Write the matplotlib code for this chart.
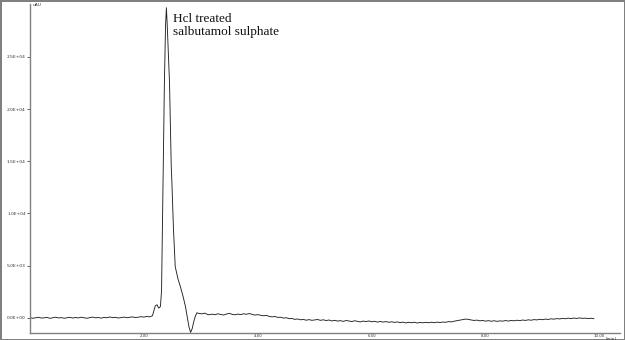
"""
HPLC chromatogram: HCl treated salbutamol sulphate
"""
import matplotlib
matplotlib.use('Agg')
import matplotlib.pyplot as plt

# retention time (min)
time_min = [
    0.00, 0.05, 0.10, 0.15, 0.20, 0.25, 0.30, 0.35, 0.40, 0.45,
    0.50, 0.55, 0.60, 0.65, 0.70, 0.75, 0.80, 0.85, 0.90, 0.95,
    1.00, 1.05, 1.10, 1.15, 1.20, 1.25, 1.30, 1.35, 1.40, 1.45,
    1.50, 1.55, 1.60, 1.65, 1.70, 1.75, 1.80, 1.85, 1.90, 1.95,
    2.00, 2.05, 2.10, 2.15,
    # peak region
    2.20, 2.23, 2.26, 2.29, 2.31, 2.34, 2.36, 2.38, 2.395, 2.41,
    2.45, 2.48, 2.49, 2.52, 2.55, 2.60, 2.64, 2.69, 2.73, 2.79,
    2.82, 2.85, 2.87, 2.90, 2.93, 2.97, 3.02, 3.07, 3.13,
    # tail baseline
    3.20, 3.25, 3.30, 3.35, 3.40, 3.45, 3.50, 3.55, 3.60, 3.65,
    3.70, 3.75, 3.80, 3.85, 3.90, 3.95, 4.00, 4.05, 4.10, 4.15,
    4.20, 4.25, 4.30, 4.35, 4.40, 4.45, 4.50, 4.55, 4.60, 4.65,
    4.70, 4.75, 4.80, 4.85, 4.90, 4.95, 5.00, 5.05, 5.10, 5.15,
    5.20, 5.25, 5.30, 5.35, 5.40, 5.45, 5.50, 5.55, 5.60, 5.65,
    5.70, 5.75, 5.80, 5.85, 5.90, 5.95, 6.00, 6.05, 6.10, 6.15,
    6.20, 6.25, 6.30, 6.35, 6.40, 6.45, 6.50, 6.55, 6.60, 6.65,
    6.70, 6.75, 6.80, 6.85, 6.90, 6.95, 7.00, 7.05, 7.10, 7.15,
    7.20, 7.25, 7.30, 7.35, 7.40, 7.45, 7.50, 7.55, 7.60, 7.65,
    7.70, 7.75, 7.80, 7.85, 7.90, 7.95, 8.00, 8.05, 8.10, 8.15,
    8.20, 8.25, 8.30, 8.35, 8.40, 8.45, 8.50, 8.55, 8.60, 8.65,
    8.70, 8.75, 8.80, 8.85, 8.90, 8.95, 9.00, 9.05, 9.10, 9.15,
    9.20, 9.25, 9.30, 9.35, 9.40, 9.45, 9.50, 9.55, 9.60, 9.65,
    9.70, 9.75, 9.80, 9.85, 9.90,
]

# detector response (uAU)
signal = [
    20, -40, 10, 50, -20, 0, 40, -50, 10, 60,
    -10, 20, -40, 0, 50, -20, 30, -10, 60, 0,
    -40, 20, 70, 0, 30, -30, 40, 10, 80, 20,
    50, -20, 30, 70, 10, 50, 90, 30, 60, 110,
    70, 130, 90, 200,
    1150, 1250, 930, 1080, 2600, 14500, 22500, 28000, 29700, 28000,
    22500, 14500, 13200, 8400, 4900, 3700, 3000, 2000, 1080, -830,
    -1400, -1000, -480, 100, 480, 420, 380, 450, 290,
    350, 300, 390, 320, 270, 360, 430, 330, 290, 360,
    310, 390, 340, 410, 330, 260, 310, 240, 200, 230,
    140, 90, 130, 40, 60, -30, 10, -80, -60, -150,
    -110, -190, -150, -230, -170, -240, -200, -160, -240, -190,
    -260, -210, -300, -240, -310, -270, -340, -260, -300, -360,
    -280, -330, -390, -310, -360, -300, -380, -330, -410, -350,
    -410, -360, -430, -380, -440, -390, -460, -410, -490, -430,
    -470, -420, -500, -440, -480, -430, -470, -420, -470, -410,
    -450, -400, -430, -360, -390, -320, -270, -220, -170, -120,
    -150, -210, -250, -220, -290, -250, -320, -270, -330, -280,
    -340, -290, -320, -260, -310, -250, -290, -230, -270, -210,
    -250, -190, -230, -170, -200, -140, -180, -120, -160, -90,
    -130, -70, -110, -50, -90, -30, -80, -20, -60, -10,
    -50, -30, -70, -40, -80,
]

y_ticks = [0, 5000, 10000, 15000, 20000, 25000]
y_tick_labels = ['0.0E+00', '5.0E+03', '1.0E+04', '1.5E+04', '2.0E+04', '2.5E+04']
x_ticks = [2, 4, 6, 8, 10]
x_tick_labels = ['2.00', '4.00', '6.00', '8.00', '10.00']

AXIS_GRAY = '#808080'


def main():
    fig = plt.figure(figsize=(6.25, 3.4), dpi=100)
    fig.patch.set_edgecolor(AXIS_GRAY)
    fig.patch.set_linewidth(2.0)

    ax = fig.add_axes([0.048, 0.021, 0.944, 0.967])
    ax.plot(time_min, signal, color='#222222', lw=0.65)

    ax.set_xlim(0, 10.36)
    ax.set_ylim(-1440, 30050)

    for side in ('top', 'right'):
        ax.spines[side].set_visible(False)
    for side in ('left', 'bottom'):
        ax.spines[side].set_color(AXIS_GRAY)
        ax.spines[side].set_linewidth(1.0)

    ax.set_yticks(y_ticks)
    ax.set_yticklabels(y_tick_labels)
    ax.tick_params(axis='y', length=2.5, width=0.6, color='#444444',
                   labelsize=3.2, pad=0.5, labelcolor='#333333')
    ax.set_xticks(x_ticks)
    ax.set_xticklabels(x_tick_labels)
    ax.tick_params(axis='x', length=0, labelsize=2.8, pad=0.6,
                   labelcolor='#333333')

    ax.text(0.004, 0.997, 'uAU', transform=ax.transAxes, fontsize=3.2,
            color='#333333', ha='left', va='center')
    ax.text(0.985, -0.012, '[min]', transform=ax.transAxes, fontsize=2.8,
            color='#333333', ha='center', va='top')

    ax.text(2.51, 29200, 'Hcl treated\nsalbutamol sulphate',
            family='Liberation Serif', fontsize=9.5, color='#111111',
            ha='left', va='top', linespacing=1.1)

    fig.savefig('out.png', dpi=100)


if __name__ == "__main__":
    main()
